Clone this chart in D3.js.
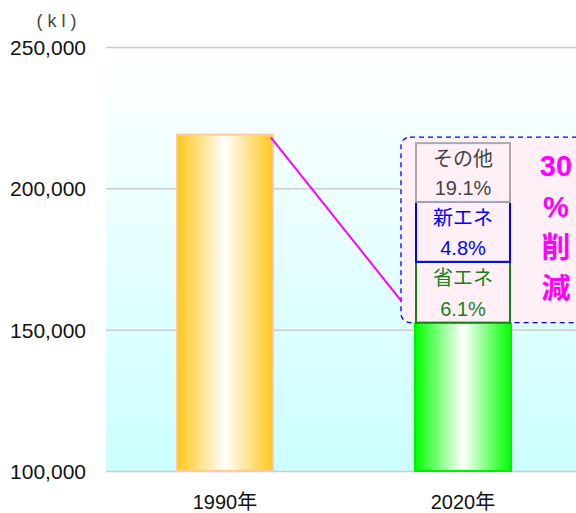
<!DOCTYPE html>
<meta charset="utf-8">
<style>
	body { margin: 0; background: #fff; }
	svg { display: block; font-family: "Liberation Sans", Arial, "Noto Sans CJK JP", sans-serif; }
	.tick text { font-size: 21px; fill: #111; }
	.jp { font-family: "Liberation Sans", "Noto Sans CJK JP", sans-serif; }
</style>
<body>
<svg id="chart" width="576" height="513"></svg>
<script src="https://cdn.jsdelivr.net/npm/d3@7"></script>
<script>
	// data
	var years = ["1990年", "2020年"];
	var values = [219000, 152500];
	var yTicks = [100000, 150000, 200000, 250000];
	// breakdown boxes on top of the 2020 bar (bottom -> top)
	var partNames = ["省エネ", "新エネ", "その他"];
	var partPcts = ["6.1%", "4.8%", "19.1%"];
	var partTops = [174000, 195200, 216000];
	var partStroke = ["#1a801a", "#0000ff", "#aaaaaa"];
	var partText = ["#1a801a", "#0000ff", "#444444"];
	var cutLabel = ["30", "%", "削", "減"];
	var unitLabel = "(kl)";

	var width = 576, height = 513;
	var plotLeft = 106, plotTop = 47, plotBottom = 471;

	var svg = d3.select("#chart");
	var defs = svg.append("defs");

	function barGrad(id, edge) {
		var g = defs.append("linearGradient").attr("id", id)
			.attr("x1", "0%").attr("x2", "100%").attr("y1", "0%").attr("y2", "0%");
		g.append("stop").attr("offset", "0%").attr("stop-color", edge);
		g.append("stop").attr("offset", "50%").attr("stop-color", "#ffffff");
		g.append("stop").attr("offset", "100%").attr("stop-color", edge);
	}
	barGrad("g1990", "#ffc61a");
	barGrad("g2020", "#00ff00");

	var bg = defs.append("linearGradient").attr("id", "bg")
		.attr("x1", "0%").attr("x2", "0%").attr("y1", "0%").attr("y2", "100%");
	bg.append("stop").attr("offset", "0%").attr("stop-color", "#ffffff");
	bg.append("stop").attr("offset", "100%").attr("stop-color", "#ccffff");

	var y = d3.scaleLinear().domain([100000, 250000]).range([plotBottom, plotTop]);
	var x = d3.scalePoint().domain(years).range([plotLeft, 582]).padding(0.5);
	var barW = 96;

	// plot background
	svg.append("rect")
		.attr("x", plotLeft).attr("y", plotTop)
		.attr("width", width - plotLeft).attr("height", plotBottom - plotTop)
		.attr("fill", "url(#bg)");

	// grid + y axis labels
	var yAxis = d3.axisLeft(y).tickValues(yTicks)
		.tickFormat(d3.format(",")).tickSize(-(width - plotLeft)).tickPadding(20);
	var ga = svg.append("g").attr("transform", "translate(" + plotLeft + ",0)").call(yAxis);
	ga.select(".domain").remove();
	ga.selectAll(".tick line").attr("stroke", "#cccccc").attr("stroke-width", 1.5);
	ga.selectAll(".tick text").attr("dy", "0.35em");

	// unit
	svg.append("text")
		.attr("x", 59).attr("y", 27).attr("text-anchor", "middle")
		.attr("font-size", 18).attr("letter-spacing", 5).attr("fill", "#444")
		.attr("font-family", "'Liberation Sans Narrow', 'Liberation Sans', sans-serif")
		.text(unitLabel);

	// bars
	svg.selectAll(".bar").data(values).enter().append("rect")
		.attr("class", "bar")
		.attr("x", function(d, i) { return x(years[i]) - barW / 2; })
		.attr("y", function(d) { return y(d); })
		.attr("width", barW)
		.attr("height", function(d) { return y(100000) - y(d); })
		.attr("fill", function(d, i) { return i == 0 ? "url(#g1990)" : "url(#g2020)"; })
		.attr("stroke", function(d, i) { return i == 0 ? "#ffcc99" : "#00ee00"; })
		.attr("stroke-width", 2);

	// dashed callout box
	var boxX = x(years[1]) - barW / 2 - 14;
	svg.append("rect")
		.attr("x", boxX).attr("y", y(partTops[2]) - 6)
		.attr("width", 200).attr("height", y(values[1]) - y(partTops[2]) + 6)
		.attr("rx", 9).attr("fill", "#fff0f8")
		.attr("stroke", "#0000ee").attr("stroke-width", 1.3)
		.attr("stroke-dasharray", "5,4");

	// connecting line
	svg.append("line")
		.attr("x1", x(years[0]) + barW / 2 - 2).attr("y1", y(values[0]) + 3)
		.attr("x2", boxX).attr("y2", y(values[1]) - 22)
		.attr("stroke", "#ff00ff").attr("stroke-width", 2);

	// breakdown boxes
	var bx = x(years[1]) - barW / 2 + 1;
	partNames.forEach(function(name, i) {
		var lo = i == 0 ? values[1] : partTops[i - 1];
		var hi = partTops[i];
		var y0 = y(hi), y1 = y(lo);
		svg.append("rect")
			.attr("x", bx).attr("y", y0)
			.attr("width", barW - 2).attr("height", y1 - y0)
			.attr("fill", "#fff0f8")
			.attr("stroke", partStroke[i]).attr("stroke-width", 2);
		svg.append("text").attr("class", "jp")
			.attr("x", bx + (barW - 2) / 2).attr("y", y0 + (y1 - y0) * 0.27)
			.attr("dy", "0.35em").attr("text-anchor", "middle")
			.attr("font-size", 20).attr("fill", partText[i]).text(name);
		svg.append("text").attr("class", "jp")
			.attr("x", bx + (barW - 2) / 2).attr("y", y0 + (y1 - y0) * 0.77)
			.attr("dy", "0.35em").attr("text-anchor", "middle")
			.attr("font-size", 20).attr("fill", partText[i]).text(partPcts[i]);
	});

	// 30% 削減
	cutLabel.forEach(function(t, i) {
		svg.append("text").attr("class", "jp")
			.attr("x", 556).attr("y", 166 + i * 41)
			.attr("dy", "0.35em").attr("text-anchor", "middle")
			.attr("font-size", 29).attr("font-weight", "bold")
			.attr("fill", "#ff00ff").text(t);
	});

	// x labels
	svg.selectAll(".xl").data(years).enter().append("text")
		.attr("class", "xl jp")
		.attr("x", function(d) { return x(d); })
		.attr("y", 502).attr("dy", "0.35em").attr("text-anchor", "middle")
		.attr("font-size", 20).attr("fill", "#111")
		.text(function(d) { return d; });
</script>
</body>
